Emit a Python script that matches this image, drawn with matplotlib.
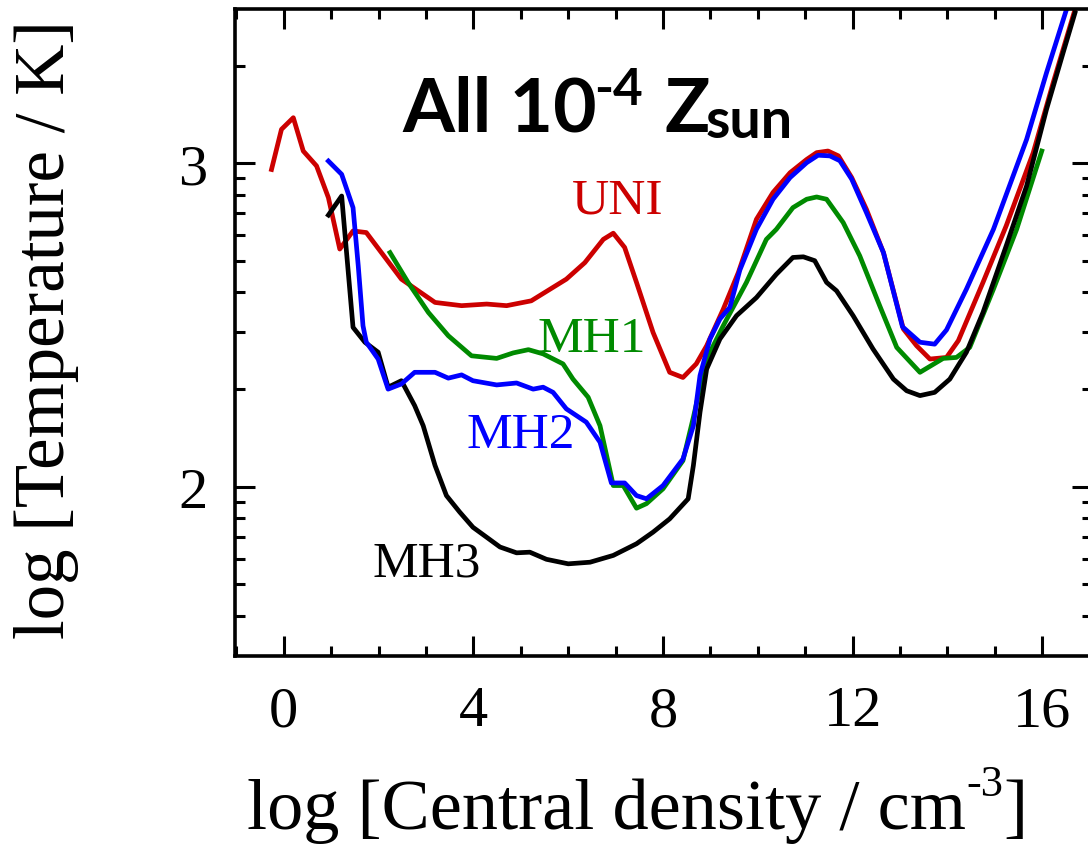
import numpy as np
import matplotlib
matplotlib.use("Agg")
from matplotlib import pyplot as plt
from matplotlib.ticker import FixedLocator, MultipleLocator

# log central density (x) and log temperature (y) for each model
uni_x = [-0.26, -0.05, 0.20, 0.41, 0.69, 0.94, 1.18, 1.46, 1.74, 2.48, 3.19, 3.75,
         4.28, 4.70, 5.22, 5.96, 6.35, 6.74, 6.95, 7.19, 7.44, 7.79, 8.14, 8.42,
         8.70, 8.92, 9.27, 9.59, 9.97, 10.32, 10.68, 11.03, 11.24, 11.48, 11.70,
         11.98, 12.29, 12.65, 13.07, 13.35, 13.63, 13.98, 14.23, 14.75, 15.24,
         15.81, 16.23, 16.70]
uni_y = [2.981, 3.105, 3.141, 3.038, 2.992, 2.894, 2.735, 2.791, 2.786, 2.642, 2.570,
         2.560, 2.565, 2.560, 2.575, 2.642, 2.693, 2.765, 2.784, 2.740, 2.632, 2.477,
         2.354, 2.338, 2.380, 2.436, 2.549, 2.663, 2.827, 2.910, 2.971, 3.012, 3.033,
         3.038, 3.023, 2.956, 2.858, 2.724, 2.488, 2.436, 2.395, 2.400, 2.452, 2.632,
         2.807, 3.033, 3.249, 3.480]

mh1_x = [2.24, 2.62, 3.05, 3.47, 3.96, 4.49, 4.84, 5.16, 5.47, 5.89, 6.10, 6.42,
         6.67, 6.95, 7.16, 7.44, 7.65, 8.00, 8.42, 8.64, 8.92, 9.27, 9.76, 10.18,
         10.39, 10.74, 11.03, 11.24, 11.45, 11.80, 12.15, 12.57, 12.93, 13.42,
         13.91, 14.19, 14.47, 14.97, 15.46, 15.99]
mh1_y = [2.724, 2.632, 2.539, 2.467, 2.405, 2.397, 2.414, 2.424, 2.411, 2.380, 2.333,
         2.277, 2.189, 2.004, 2.004, 1.934, 1.948, 1.994, 2.081, 2.215, 2.395, 2.498,
         2.632, 2.765, 2.796, 2.863, 2.889, 2.896, 2.889, 2.817, 2.714, 2.560, 2.431,
         2.354, 2.397, 2.400, 2.431, 2.611, 2.796, 3.038]

mh2_x = [0.94, 1.22, 1.46, 1.57, 1.67, 1.74, 1.99, 2.20, 2.48, 2.76, 3.19, 3.47,
         3.75, 3.99, 4.49, 4.91, 5.26, 5.47, 5.68, 5.96, 6.38, 6.67, 6.91, 7.19,
         7.44, 7.65, 8.00, 8.42, 8.64, 8.78, 8.99, 9.20, 9.41, 9.62, 9.97, 10.32,
         10.68, 11.03, 11.27, 11.52, 11.73, 11.98, 12.29, 12.65, 13.05, 13.42,
         13.73, 13.98, 14.40, 14.97, 15.67, 16.09, 16.51]
mh2_y = [3.007, 2.966, 2.863, 2.683, 2.498, 2.447, 2.395, 2.302, 2.318, 2.354, 2.354,
         2.336, 2.346, 2.328, 2.315, 2.321, 2.302, 2.308, 2.292, 2.241, 2.200, 2.138,
         2.012, 2.012, 1.973, 1.963, 2.004, 2.086, 2.189, 2.344, 2.457, 2.519, 2.555,
         2.670, 2.796, 2.889, 2.956, 3.002, 3.025, 3.023, 3.008, 2.951, 2.848, 2.724,
         2.495, 2.447, 2.441, 2.485, 2.611, 2.796, 3.074, 3.280, 3.475]

mh3_x = [0.94, 1.22, 1.46, 1.71, 1.99, 2.20, 2.48, 2.76, 2.94, 3.19, 3.43, 3.71,
         3.99, 4.28, 4.56, 4.91, 5.19, 5.54, 6.00, 6.46, 6.95, 7.44, 7.79, 8.14,
         8.53, 8.64, 8.78, 8.92, 9.20, 9.55, 9.97, 10.39, 10.74, 10.96, 11.20,
         11.45, 11.66, 12.01, 12.43, 12.86, 13.14, 13.42, 13.73, 14.05, 14.40,
         14.75, 15.24, 15.67, 16.09, 16.44, 16.69]
mh3_y = [2.840, 2.899, 2.493, 2.447, 2.416, 2.308, 2.328, 2.251, 2.189, 2.066, 1.973,
         1.922, 1.875, 1.844, 1.814, 1.796, 1.798, 1.776, 1.762, 1.767, 1.788, 1.824,
         1.860, 1.901, 1.963, 2.066, 2.231, 2.364, 2.457, 2.529, 2.585, 2.657, 2.709,
         2.711, 2.699, 2.632, 2.606, 2.529, 2.426, 2.333, 2.297, 2.282, 2.292, 2.333,
         2.416, 2.539, 2.745, 2.930, 3.167, 3.342, 3.465]

serif = "Liberation Serif"
red, green, blue = "#cc0000", "#008a00", "#0000ff"
W, H = 1088, 845

fig = plt.figure(figsize=(W / 100, H / 100), dpi=100)
ax = fig.add_axes([0.216, 0.2225, 0.7877, 0.7657])

lw = 3.4
ax.plot(uni_x, uni_y, color=red, lw=lw)
ax.plot(mh1_x, mh1_y, color=green, lw=lw)
ax.plot(mh3_x, mh3_y, color="black", lw=lw)
ax.plot(mh2_x, mh2_y, color=blue, lw=lw)

ax.set_xlim(-1.03, 17.05)
ax.set_ylim(np.log10(30), np.log10(3000))

# x ticks
ax.xaxis.set_major_locator(FixedLocator([0, 4, 8, 12, 16]))
ax.xaxis.set_minor_locator(MultipleLocator(1))
# y ticks: log T, minor ticks at 40..90, 200..900, 2000 K
ax.yaxis.set_major_locator(FixedLocator([2, 3]))
minor_T = [40, 50, 60, 70, 80, 90, 200, 300, 400, 500, 600, 700, 800, 900, 2000]
ax.yaxis.set_minor_locator(FixedLocator(np.log10(minor_T)))

ax.tick_params(which="both", direction="in", top=True, right=True, width=2.2)
ax.tick_params(which="major", length=14.5)
ax.tick_params(which="minor", length=7.5)
ax.tick_params(axis="x", which="major", pad=21)
ax.tick_params(axis="y", which="major", pad=20)
for lab in ax.get_xticklabels() + ax.get_yticklabels():
    lab.set_fontfamily(serif)
    lab.set_fontsize(42)

for sp in ax.spines.values():
    sp.set_linewidth(2.6)

# y axis label
fig.text(64 / W, 1 - 330 / H, "log [Temperature / K]", family=serif, fontsize=51,
         rotation=90, rotation_mode="anchor", ha="center", va="baseline")

# x axis label, built from pieces so the superscript keeps a plain hyphen
base_y = 1 - 829 / H
sup_y = 1 - 796 / H
part1 = fig.text(0, base_y, "log [Central density / cm", family=serif, fontsize=52,
                 va="baseline")
part2 = fig.text(0, sup_y, "-3", family=serif, fontsize=32, va="baseline")
part3 = fig.text(0, base_y, "]", family=serif, fontsize=52, va="baseline")
rend = fig.canvas.get_renderer()
widths = [p.get_window_extent(rend).width for p in (part1, part2, part3)]
start = 637 - sum(widths) / 2
for p, w in zip((part1, part2, part3), widths):
    p.set_x(start / W)
    start += w

# curve labels
ax.text(6.08, 2.849, "UNI", color=red, family=serif, fontsize=37, va="baseline")
ax.text(5.36, 2.420, "MH1", color=green, family=serif, fontsize=37, va="baseline")
ax.text(3.86, 2.123, "MH2", color=blue, family=serif, fontsize=37, va="baseline")
ax.text(1.88, 1.725, "MH3", color="black", family=serif, fontsize=37, va="baseline")

# panel title
fig.text(402 / W, 1 - 132 / H, "All 10", family="Lato", weight="bold",
         fontsize=54, va="baseline")
fig.text(594 / W, 1 - 105 / H, "-4", family="Lato", weight="bold",
         fontsize=37, va="baseline")
fig.text(665 / W, 1 - 132 / H, "Z", family="Lato", weight="bold",
         fontsize=54, va="baseline")
fig.text(706 / W, 1 - 138 / H, "sun", family="Lato", weight="bold",
         fontsize=40, va="baseline")

fig.savefig("out.png", dpi=100)
